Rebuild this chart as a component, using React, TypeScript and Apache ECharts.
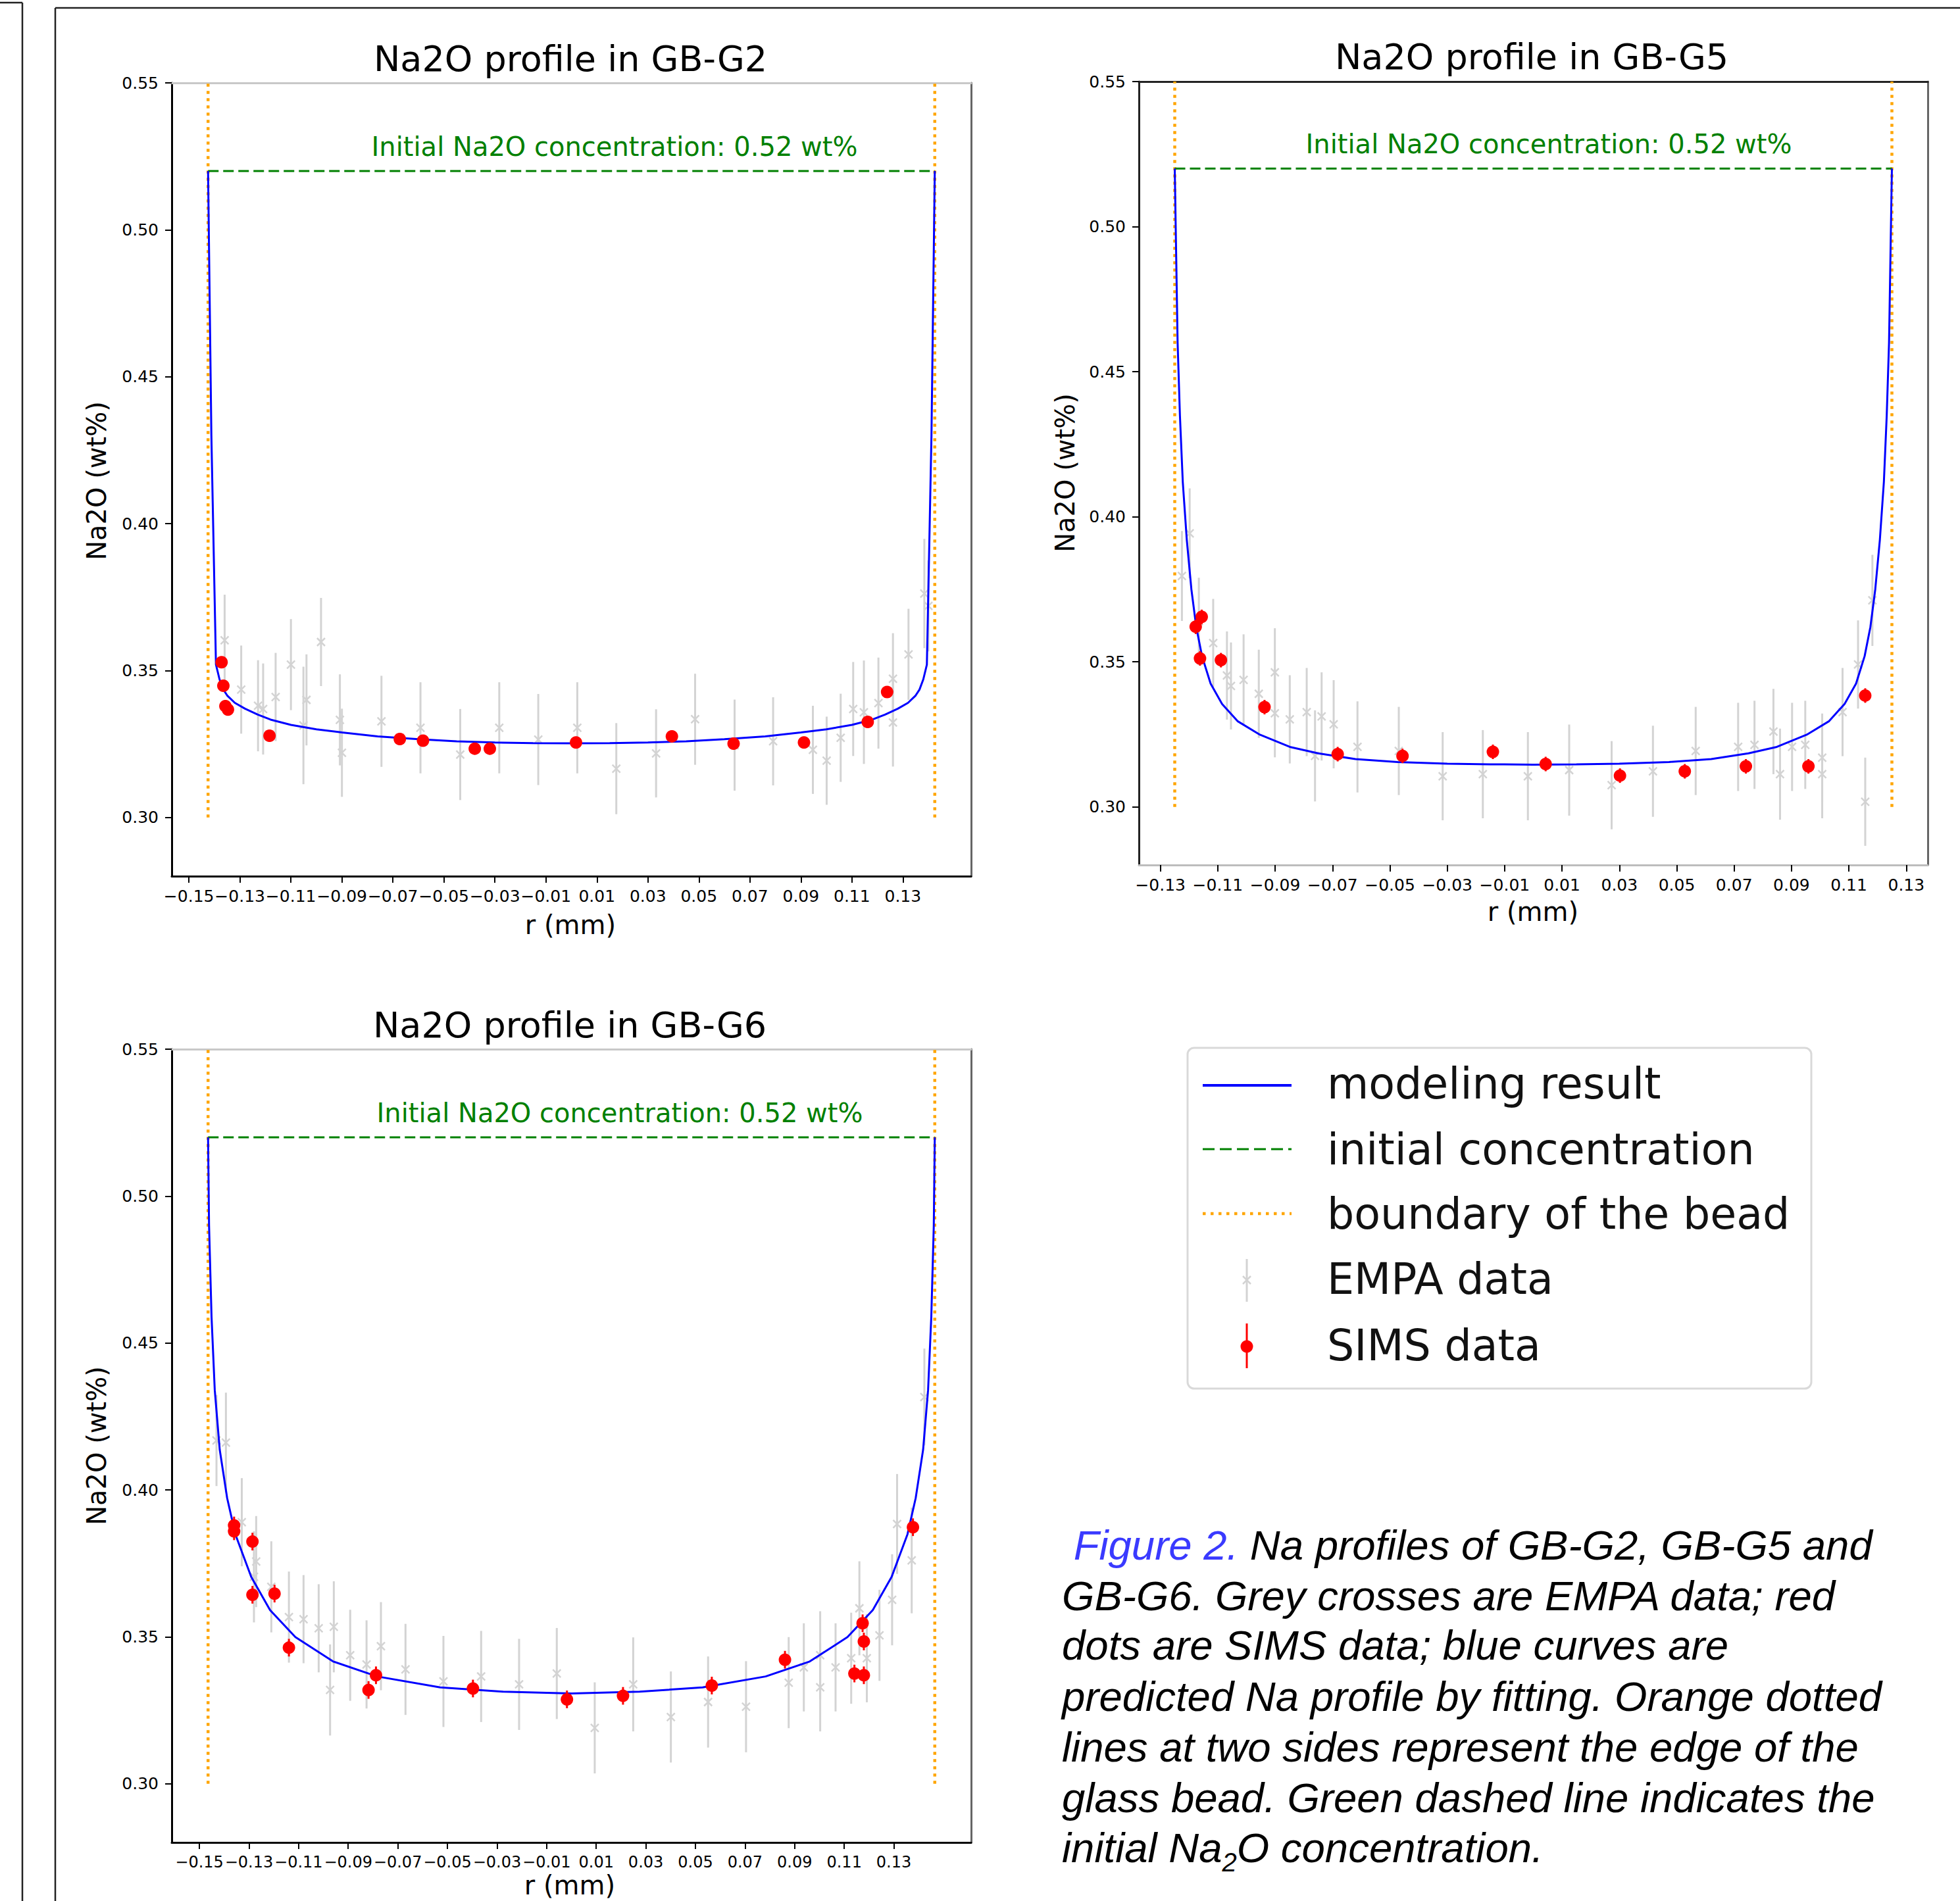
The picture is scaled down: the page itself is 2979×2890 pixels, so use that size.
import React, { useEffect, useRef } from 'react';
import * as echarts from 'echarts';

const W = 2979;
const H = 2890;
const FONT = 'DejaVu Sans';

// ---------- axis values ----------
const Y_MIN = 0.28;
const Y_MAX = 0.55;
const Y_TICKS = [0.30, 0.35, 0.40, 0.45, 0.50, 0.55];
const X_TICKS_WIDE = [-0.15, -0.13, -0.11, -0.09, -0.07, -0.05, -0.03, -0.01, 0.01, 0.03, 0.05, 0.07, 0.09, 0.11, 0.13];
const X_TICKS_G5 = [-0.13, -0.11, -0.09, -0.07, -0.05, -0.03, -0.01, 0.01, 0.03, 0.05, 0.07, 0.09, 0.11, 0.13];

const INITIAL_NA2O = 0.52;
const BOUNDARY_Y = [0.30, 0.55];
const R_G2 = 0.1425;
const R_G5 = 0.125;
const R_G6 = 0.1465;
const XLIM_G2 = 0.15675;
const XLIM_G5 = 0.1375;
const XLIM_G6 = 0.16115;

// ---------- modeling result (x mm, Na2O wt%) ----------
const MODEL_G2 = [
  [-0.1425, 0.520], [-0.1412, 0.430], [-0.1394, 0.352], [-0.1380, 0.347], [-0.1365, 0.3435],
  [-0.1350, 0.3415], [-0.1320, 0.339], [-0.1280, 0.337], [-0.1230, 0.335], [-0.1180, 0.3333],
  [-0.1100, 0.3315], [-0.1000, 0.3300], [-0.0900, 0.3289], [-0.0760, 0.3276], [-0.0600, 0.3266],
  [-0.0450, 0.3259], [-0.0300, 0.3255], [-0.0150, 0.3253], [0, 0.3252],
  [0.0150, 0.3253], [0.0300, 0.3255], [0.0450, 0.3259], [0.0600, 0.3266], [0.0760, 0.3276],
  [0.0900, 0.3289], [0.1000, 0.3300], [0.1100, 0.3315], [0.1180, 0.3333], [0.1230, 0.335],
  [0.1280, 0.337], [0.1320, 0.339], [0.1350, 0.3415], [0.1365, 0.3435], [0.1380, 0.347],
  [0.1394, 0.352], [0.1412, 0.430], [0.1425, 0.520],
];
const MODEL_G5 = [
  [-0.1250, 0.520], [-0.1245, 0.490], [-0.1240, 0.460], [-0.1232, 0.435], [-0.1222, 0.412],
  [-0.1208, 0.392], [-0.1192, 0.375], [-0.1175, 0.362], [-0.1155, 0.352], [-0.1125, 0.3425],
  [-0.1085, 0.3355], [-0.1030, 0.3295], [-0.0953, 0.3249], [-0.0849, 0.3207], [-0.0750, 0.3185],
  [-0.0620, 0.3165], [-0.0473, 0.3155], [-0.0300, 0.3149], [-0.0150, 0.3147], [0, 0.3146],
  [0.0150, 0.3147], [0.0300, 0.3149], [0.0473, 0.3155], [0.0620, 0.3165], [0.0750, 0.3185],
  [0.0849, 0.3207], [0.0953, 0.3249], [0.1030, 0.3295], [0.1085, 0.3355], [0.1125, 0.3425],
  [0.1155, 0.352], [0.1175, 0.362], [0.1192, 0.375], [0.1208, 0.392], [0.1222, 0.412],
  [0.1232, 0.435], [0.1240, 0.460], [0.1245, 0.490], [0.1250, 0.520],
];
const MODEL_G6 = [
  [-0.1465, 0.520], [-0.1461, 0.490], [-0.1451, 0.459], [-0.1438, 0.434], [-0.1418, 0.4137],
  [-0.1388, 0.3972], [-0.1355, 0.3849], [-0.1291, 0.3704], [-0.1215, 0.3591], [-0.1113, 0.3499],
  [-0.0961, 0.3416], [-0.0783, 0.3365], [-0.0529, 0.3328], [-0.0275, 0.3313], [0, 0.3307],
  [0.0275, 0.3313], [0.0529, 0.3328], [0.0783, 0.3365], [0.0961, 0.3416], [0.1113, 0.3499],
  [0.1215, 0.3591], [0.1291, 0.3704], [0.1355, 0.3849], [0.1388, 0.3972], [0.1418, 0.4137],
  [0.1438, 0.434], [0.1451, 0.459], [0.1461, 0.490], [0.1465, 0.520],
];

// ---------- EMPA data (x, value, error) ----------
const EMPA_G2 = [
  [-0.1360, 0.3603, 0.0155], [-0.1295, 0.3435, 0.0150], [-0.1229, 0.3380, 0.0155], [-0.1209, 0.3369, 0.0155],
  [-0.1160, 0.3410, 0.0150], [-0.1100, 0.3520, 0.0155], [-0.1051, 0.3313, 0.0200], [-0.1039, 0.3400, 0.0155],
  [-0.0982, 0.3597, 0.0150], [-0.0908, 0.3332, 0.0155], [-0.0900, 0.3220, 0.0150], [-0.0745, 0.3327, 0.0155],
  [-0.0592, 0.3305, 0.0155], [-0.0436, 0.3214, 0.0155], [-0.0283, 0.3305, 0.0155], [-0.0130, 0.3265, 0.0155],
  [0.0023, 0.3305, 0.0155], [0.0176, 0.3166, 0.0155], [0.0332, 0.3218, 0.0150], [0.0485, 0.3334, 0.0155],
  [0.0640, 0.3246, 0.0155], [0.0791, 0.3259, 0.0150], [0.0947, 0.3230, 0.0150], [0.1001, 0.3193, 0.0150],
  [0.1056, 0.3271, 0.0150], [0.1105, 0.3369, 0.0160], [0.1147, 0.3358, 0.0176], [0.1204, 0.3389, 0.0155],
  [0.1261, 0.3323, 0.0150], [0.1261, 0.3472, 0.0155], [0.1322, 0.3555, 0.0155], [0.1384, 0.3762, 0.0186],
  [0.1400, 0.3720, 0.0155],
];
const EMPA_G5 = [
  [-0.1225, 0.3796, 0.0155], [-0.1198, 0.3943, 0.0155], [-0.1166, 0.3640, 0.0150], [-0.1116, 0.3565, 0.0152],
  [-0.1068, 0.3453, 0.0152], [-0.1054, 0.3417, 0.0150], [-0.1010, 0.3438, 0.0157], [-0.0957, 0.3390, 0.0152],
  [-0.0901, 0.3464, 0.0152], [-0.0901, 0.3323, 0.0152], [-0.0849, 0.3302, 0.0152], [-0.0790, 0.3327, 0.0152],
  [-0.0761, 0.3176, 0.0157], [-0.0738, 0.3312, 0.0152], [-0.0696, 0.3285, 0.0152], [-0.0613, 0.3207, 0.0157],
  [-0.0469, 0.3193, 0.0152], [-0.0316, 0.3106, 0.0152], [-0.0176, 0.3113, 0.0152], [-0.0019, 0.3106, 0.0152],
  [0.0125, 0.3127, 0.0157], [0.0273, 0.3075, 0.0152], [0.0417, 0.3123, 0.0157], [0.0566, 0.3193, 0.0152],
  [0.0714, 0.3207, 0.0152], [0.0771, 0.3214, 0.0152], [0.0837, 0.3260, 0.0147], [0.0860, 0.3113, 0.0157],
  [0.0902, 0.3207, 0.0152], [0.0948, 0.3214, 0.0152], [0.1007, 0.3170, 0.0152], [0.1007, 0.3113, 0.0152],
  [0.1078, 0.3327, 0.0152], [0.1132, 0.3491, 0.0152], [0.1157, 0.3018, 0.0152], [0.1182, 0.3712, 0.0157],
];
const EMPA_G6 = [
  [-0.1431, 0.4168, 0.0155], [-0.1393, 0.4161, 0.0170], [-0.1329, 0.3890, 0.0150], [-0.1271, 0.3756, 0.0155],
  [-0.1280, 0.3704, 0.0155], [-0.1210, 0.3670, 0.0155], [-0.1139, 0.3567, 0.0155], [-0.1080, 0.3560, 0.0150],
  [-0.1019, 0.3529, 0.0150], [-0.0973, 0.3319, 0.0155], [-0.0958, 0.3534, 0.0155], [-0.0892, 0.3437, 0.0155],
  [-0.0826, 0.3406, 0.0150], [-0.0768, 0.3468, 0.0150], [-0.0669, 0.3389, 0.0155], [-0.0516, 0.3348, 0.0155],
  [-0.0364, 0.3365, 0.0155], [-0.0211, 0.3338, 0.0155], [-0.0059, 0.3375, 0.0155], [0.0094, 0.3190, 0.0155],
  [0.0249, 0.3338, 0.0160], [0.0401, 0.3227, 0.0155], [0.0551, 0.3278, 0.0155], [0.0704, 0.3262, 0.0155],
  [0.0876, 0.3344, 0.0155], [0.0937, 0.3396, 0.0150], [0.1003, 0.3437, 0.0150], [0.1003, 0.3328, 0.0150],
  [0.1065, 0.3396, 0.0150], [0.1128, 0.3427, 0.0155], [0.1161, 0.3597, 0.0160], [0.1191, 0.3427, 0.0150],
  [0.1242, 0.3505, 0.0155], [0.1293, 0.3626, 0.0155], [0.1313, 0.3884, 0.0170], [0.1372, 0.3760, 0.0180],
  [0.1423, 0.4316, 0.0165],
];

// ---------- SIMS data (x, value, error) ----------
const SIMS_G2 = [
  [-0.1372, 0.3528, 0.002], [-0.1365, 0.3448, 0.002], [-0.1357, 0.3379, 0.002], [-0.1347, 0.3367, 0.002],
  [-0.1184, 0.3278, 0.002], [-0.0673, 0.3267, 0.002], [-0.0582, 0.3261, 0.002], [-0.0379, 0.3234, 0.002],
  [-0.0320, 0.3234, 0.002], [0.0018, 0.3255, 0.002], [0.0394, 0.3276, 0.002], [0.0636, 0.3251, 0.002],
  [0.0912, 0.3255, 0.002], [0.1162, 0.3325, 0.002], [0.1238, 0.3427, 0.002],
];
const SIMS_G5 = [
  [-0.1177, 0.3621, 0.0025], [-0.1156, 0.3655, 0.0025], [-0.1162, 0.3512, 0.0025], [-0.1089, 0.3506, 0.0025],
  [-0.0937, 0.3344, 0.0025], [-0.0682, 0.3182, 0.0025], [-0.0456, 0.3176, 0.0025], [-0.0141, 0.3190, 0.0025],
  [0.0043, 0.3148, 0.0025], [0.0302, 0.3108, 0.0025], [0.0528, 0.3123, 0.0025], [0.0741, 0.3140, 0.0025],
  [0.0959, 0.3140, 0.0025], [0.1157, 0.3384, 0.0025],
];
const SIMS_G6 = [
  [-0.1360, 0.3879, 0.003], [-0.1360, 0.3859, 0.003], [-0.1286, 0.3824, 0.003], [-0.1286, 0.3643, 0.003],
  [-0.1197, 0.3647, 0.003], [-0.1139, 0.3463, 0.003], [-0.0818, 0.3319, 0.003], [-0.0788, 0.3369, 0.003],
  [-0.0397, 0.3324, 0.003], [-0.0018, 0.3287, 0.003], [0.0208, 0.3299, 0.003], [0.0566, 0.3334, 0.003],
  [0.0861, 0.3422, 0.003], [0.1141, 0.3375, 0.003], [0.1179, 0.3369, 0.003], [0.1174, 0.3546, 0.003],
  [0.1179, 0.3484, 0.003], [0.1377, 0.3873, 0.003],
];

const LEGEND_LABELS = ['modeling result', 'initial concentration', 'boundary of the bead', 'EMPA data', 'SIMS data'];
const CAPTION_LINES = [
  'Na profiles of GB-G2, GB-G5 and',
  'GB-G6. Grey crosses are EMPA data; red',
  'dots are SIMS data; blue curves are',
  'predicted Na profile by fitting. Orange dotted',
  'lines at two sides represent the edge of the',
  'glass bead. Green dashed line indicates the',
];

const PANELS = [
  {
    title: 'Na2O profile in GB-G2', R: R_G2, lim: XLIM_G2, xTicks: X_TICKS_WIDE, xLabelSize: 25,
    model: MODEL_G2, empa: EMPA_G2, sims: SIMS_G2,
    grid: { left: 261, top: 126, width: 1215, height: 1206 },
    titlePos: [867, 89], initPos: [934, 223], yNamePos: [147, 731], xNamePos: [867, 1406],
    spine: { left: '#000', bottom: '#000', top: '#c8c8c8', right: '#666' },
  },
  {
    title: 'Na2O profile in GB-G5', R: R_G5, lim: XLIM_G5, xTicks: X_TICKS_G5, xLabelSize: 25,
    model: MODEL_G5, empa: EMPA_G5, sims: SIMS_G5,
    grid: { left: 1731, top: 124, width: 1199, height: 1191 },
    titlePos: [2328, 86], initPos: [2354, 219], yNamePos: [1619, 719], xNamePos: [2330, 1386],
    spine: { left: '#222', bottom: '#bdbdbd', top: '#222', right: '#666' },
  },
  {
    title: 'Na2O profile in GB-G6', R: R_G6, lim: XLIM_G6, xTicks: X_TICKS_WIDE, xLabelSize: 24,
    model: MODEL_G6, empa: EMPA_G6, sims: SIMS_G6,
    grid: { left: 261, top: 1595, width: 1215, height: 1206 },
    titlePos: [866, 1558], initPos: [942, 1692], yNamePos: [147, 2198], xNamePos: [866, 2866],
    spine: { left: '#000', bottom: '#000', top: '#c8c8c8', right: '#666' },
  },
];

const GREY = '#d3d3d3';
const RED = '#ff0000';
const ORANGE = '#ffa500';

const xFmt = (v: number) => (v < 0 ? '\u2212' : '') + Math.abs(v).toFixed(2);

function renderEmpa(_p: any, api: any) {
  const x = api.value(0), y = api.value(1), e = api.value(2);
  const c = api.coord([x, y]);
  const lo = api.coord([x, y - e]);
  const hi = api.coord([x, y + e]);
  const s = 6;
  const st = { stroke: GREY, lineWidth: 3 };
  return {
    type: 'group',
    children: [
      { type: 'line', shape: { x1: c[0], y1: lo[1], x2: c[0], y2: hi[1] }, style: st },
      { type: 'line', shape: { x1: c[0] - s, y1: c[1] - s, x2: c[0] + s, y2: c[1] + s }, style: { stroke: GREY, lineWidth: 2.5 } },
      { type: 'line', shape: { x1: c[0] - s, y1: c[1] + s, x2: c[0] + s, y2: c[1] - s }, style: { stroke: GREY, lineWidth: 2.5 } },
    ],
  };
}

function renderSims(_p: any, api: any) {
  const x = api.value(0), y = api.value(1), e = api.value(2);
  const c = api.coord([x, y]);
  const lo = api.coord([x, y - e]);
  const hi = api.coord([x, y + e]);
  return {
    type: 'group',
    children: [
      { type: 'line', shape: { x1: c[0], y1: lo[1], x2: c[0], y2: hi[1] }, style: { stroke: RED, lineWidth: 3 } },
      { type: 'circle', shape: { cx: c[0], cy: c[1], r: 9.5 }, style: { fill: RED } },
    ],
  };
}

export default function App() {
  const ref = useRef<HTMLDivElement>(null);

  useEffect(() => {
    document.body.style.margin = '0';
    document.body.style.overflow = 'hidden';
    if (!ref.current) return;
    const chart = echarts.init(ref.current, null, { renderer: 'svg', width: W, height: H });

    const ctx = document.createElement('canvas').getContext('2d')!;
    const measure = (t: string, size: number) => {
      ctx.font = `italic ${size}px "Liberation Sans"`;
      return ctx.measureText(t).width;
    };

    const grids: any[] = [];
    const xAxes: any[] = [];
    const yAxes: any[] = [];
    const series: any[] = [];
    const graphic: any[] = [];

    PANELS.forEach((p, i) => {
      grids.push({ ...p.grid, containLabel: false, outerBoundsMode: 'none', show: false });
      xAxes.push({
        type: 'value', gridIndex: i, min: -p.lim, max: p.lim, position: 'bottom',
        axisLine: { show: true, onZero: false, lineStyle: { color: p.spine.bottom, width: 3 } },
        axisTick: { show: true, length: 10, lineStyle: { color: '#000', width: 2 }, customValues: p.xTicks },
        axisLabel: {
          show: true, customValues: p.xTicks, formatter: xFmt, color: '#000', fontSize: p.xLabelSize, fontFamily: FONT, margin: 18,
          showMinLabel: true, showMaxLabel: true, hideOverlap: false,
        },
        splitLine: { show: false },
      });
      xAxes.push({
        type: 'value', gridIndex: i, min: -p.lim, max: p.lim, position: 'top',
        axisLine: { show: true, onZero: false, lineStyle: { color: p.spine.top, width: 3 } },
        axisTick: { show: false }, axisLabel: { show: false }, splitLine: { show: false },
      });
      yAxes.push({
        type: 'value', gridIndex: i, min: Y_MIN, max: Y_MAX, position: 'left',
        axisLine: { show: true, onZero: false, lineStyle: { color: p.spine.left, width: 3 } },
        axisTick: { show: true, length: 10, lineStyle: { color: '#000', width: 2 }, customValues: Y_TICKS },
        axisLabel: {
          show: true, customValues: Y_TICKS, formatter: (v: number) => v.toFixed(2), color: '#000', fontSize: 25, fontFamily: FONT, margin: 20,
          showMinLabel: true, showMaxLabel: true,
        },
        splitLine: { show: false },
      });
      yAxes.push({
        type: 'value', gridIndex: i, min: Y_MIN, max: Y_MAX, position: 'right',
        axisLine: { show: true, onZero: false, lineStyle: { color: p.spine.right, width: 3 } },
        axisTick: { show: false }, axisLabel: { show: false }, splitLine: { show: false },
      });
      const xi = 2 * i, yi = 2 * i;
      const common = { xAxisIndex: xi, yAxisIndex: yi, silent: true, animation: false };
      series.push({
        ...common, type: 'line', symbol: 'none', data: [[-p.R, BOUNDARY_Y[0]], [-p.R, BOUNDARY_Y[1]]],
        lineStyle: { color: ORANGE, width: 4.5, type: [4.5, 6.5] }, z: 2,
      });
      series.push({
        ...common, type: 'line', symbol: 'none', data: [[p.R, BOUNDARY_Y[0]], [p.R, BOUNDARY_Y[1]]],
        lineStyle: { color: ORANGE, width: 4.5, type: [4.5, 6.5] }, z: 2,
      });
      series.push({
        ...common, type: 'line', symbol: 'none', data: [[-p.R, INITIAL_NA2O], [p.R, INITIAL_NA2O]],
        lineStyle: { color: '#008000', width: 3, type: [16, 7] }, z: 2,
      });
      series.push({
        ...common, type: 'custom', renderItem: renderEmpa, data: p.empa,
        encode: { x: 0, y: 1 }, z: 3,
      });
      series.push({
        ...common, type: 'line', symbol: 'none', data: p.model, smooth: false,
        lineStyle: { color: '#0000ff', width: 3 }, z: 4,
      });
      series.push({
        ...common, type: 'custom', renderItem: renderSims, data: p.sims,
        encode: { x: 0, y: 1 }, z: 5,
      });

      graphic.push({
        type: 'text', x: p.titlePos[0], y: p.titlePos[1],
        style: { text: p.title, fontSize: 54, fontFamily: FONT, fill: '#000', align: 'center', verticalAlign: 'middle' },
      });
      graphic.push({
        type: 'text', x: p.initPos[0], y: p.initPos[1],
        style: { text: `Initial Na2O concentration: ${INITIAL_NA2O.toFixed(2)} wt%`, fontSize: 40, fontFamily: FONT, fill: '#008000', align: 'center', verticalAlign: 'middle' },
      });
      graphic.push({
        type: 'text', x: p.yNamePos[0], y: p.yNamePos[1], rotation: Math.PI / 2,
        style: { text: 'Na2O (wt%)', fontSize: 40, fontFamily: FONT, fill: '#000', align: 'center', verticalAlign: 'middle' },
      });
      graphic.push({
        type: 'text', x: p.xNamePos[0], y: p.xNamePos[1],
        style: { text: 'r (mm)', fontSize: 40, fontFamily: FONT, fill: '#000', align: 'center', verticalAlign: 'middle' },
      });
    });

    // page frames
    const frame = { stroke: '#222', lineWidth: 2.5 };
    graphic.push({ type: 'line', shape: { x1: 34, y1: 4, x2: 34, y2: H }, style: frame });
    graphic.push({ type: 'line', shape: { x1: 0, y1: 4, x2: 34, y2: 4 }, style: frame });
    graphic.push({ type: 'line', shape: { x1: 84, y1: 12, x2: 84, y2: H }, style: frame });
    graphic.push({ type: 'line', shape: { x1: 84, y1: 12, x2: W, y2: 12 }, style: frame });

    // legend
    graphic.push({
      type: 'rect', shape: { x: 1805, y: 1593, width: 948, height: 518, r: 10 },
      style: { fill: '#fff', stroke: '#d9d9d9', lineWidth: 3 },
    });
    const ly = [1647, 1747, 1845, 1944, 2045];
    graphic.push({ type: 'line', shape: { x1: 1828, y1: ly[0] + 3, x2: 1963, y2: ly[0] + 3 }, style: { stroke: '#0000ff', lineWidth: 4 } });
    graphic.push({ type: 'line', shape: { x1: 1828, y1: ly[1], x2: 1963, y2: ly[1] }, style: { stroke: '#008000', lineWidth: 3, lineDash: [18, 8] } });
    graphic.push({ type: 'line', shape: { x1: 1828, y1: ly[2], x2: 1963, y2: ly[2] }, style: { stroke: ORANGE, lineWidth: 4.5, lineDash: [4.5, 7.5] } });
    graphic.push({ type: 'line', shape: { x1: 1895, y1: 1914, x2: 1895, y2: 1979 }, style: { stroke: GREY, lineWidth: 3 } });
    graphic.push({ type: 'line', shape: { x1: 1889, y1: 1940, x2: 1901, y2: 1952 }, style: { stroke: GREY, lineWidth: 2.5 } });
    graphic.push({ type: 'line', shape: { x1: 1889, y1: 1952, x2: 1901, y2: 1940 }, style: { stroke: GREY, lineWidth: 2.5 } });
    graphic.push({ type: 'line', shape: { x1: 1895, y1: 2012, x2: 1895, y2: 2080 }, style: { stroke: RED, lineWidth: 3 } });
    graphic.push({ type: 'circle', shape: { cx: 1895, cy: 2047, r: 9.5 }, style: { fill: RED } });
    LEGEND_LABELS.forEach((t, k) => {
      graphic.push({
        type: 'text', x: 2017, y: ly[k],
        style: { text: t, fontSize: 65, fontFamily: FONT, fill: '#111', align: 'left', verticalAlign: 'middle' },
      });
    });

    // caption
    const CS = 63.5;
    const cx0 = 1614;
    const cy = [2349, 2426, 2501, 2579, 2656, 2733, 2809];
    const capStyle = (t: string, fill = '#000', size = CS) => ({
      text: t, fontSize: size, fontStyle: 'italic', fontFamily: 'Liberation Sans', fill, align: 'left', verticalAlign: 'middle',
    });
    const figX = cx0 + measure(' ', CS);
    graphic.push({ type: 'text', x: figX, y: cy[0], style: capStyle('Figure 2.', '#3a3aff') });
    graphic.push({ type: 'text', x: figX + measure('Figure 2. ', CS), y: cy[0], style: capStyle(CAPTION_LINES[0]) });
    for (let k = 1; k < CAPTION_LINES.length; k++) {
      graphic.push({ type: 'text', x: cx0, y: cy[k], style: capStyle(CAPTION_LINES[k]) });
    }
    const p1 = 'initial Na';
    const w1 = measure(p1, CS);
    const w2 = measure('2', 40);
    graphic.push({ type: 'text', x: cx0, y: cy[6], style: capStyle(p1) });
    graphic.push({ type: 'text', x: cx0 + w1, y: cy[6] + 22, style: capStyle('2', '#000', 40) });
    graphic.push({ type: 'text', x: cx0 + w1 + w2, y: cy[6], style: capStyle('O concentration.') });

    chart.setOption({
      animation: false,
      backgroundColor: '#fff',
      textStyle: { fontFamily: FONT },
      grid: grids,
      xAxis: xAxes,
      yAxis: yAxes,
      series,
      graphic: { elements: graphic },
    });

    return () => chart.dispose();
  }, []);

  return <div ref={ref} style={{ width: W, height: H, background: '#fff' }} />;
}
